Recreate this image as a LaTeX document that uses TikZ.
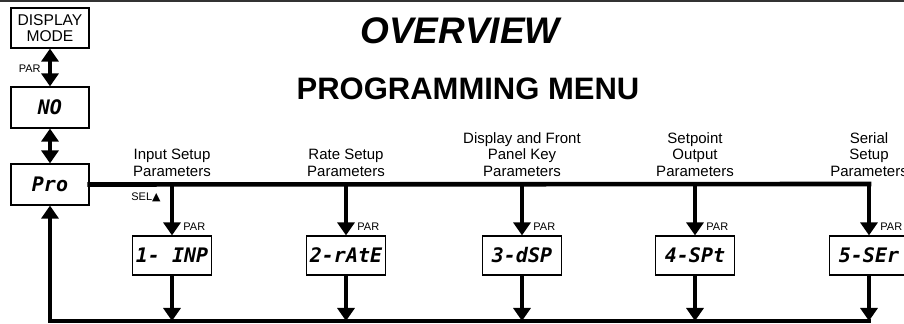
\documentclass[tikz,border=0pt]{standalone}
\usepackage{fontspec}
\setmainfont{Liberation Sans}
\newfontfamily\lcd{DejaVu Sans Mono}
\newfontfamily\sym{DejaVu Sans}
\usetikzlibrary{arrows.meta}

\tikzset{
  dispbox/.style={draw=black, line width=0.6pt, fill=white, inner sep=0pt,
    minimum width=39pt, minimum height=20.5pt,
    font=\lcd\bfseries\itshape\fontsize{10}{10}\selectfont},
  menubox/.style={dispbox, minimum width=39.5pt, minimum height=19.5pt},
  flow/.style={line width=2.3pt, -{Triangle[width=8.5pt,length=6.5pt]}},
  dflow/.style={line width=2.3pt,
    {Triangle[width=8.5pt,length=6.5pt]}-{Triangle[width=8.5pt,length=6.5pt]}},
  keylbl/.style={font=\fontsize{5.5}{6}\selectfont, inner sep=1pt},
  menulbl/.style={font=\fontsize{7.5}{8.3}\selectfont, align=center,
    anchor=south, inner sep=0pt},
}

\begin{document}
\begin{tikzpicture}[x=0.5pt, y=-0.5pt]
  \useasboundingbox (0,0) rectangle (904,324);
  \draw[line width=1pt, black!80] (0,1) -- (904,1);

  % titles
  \node (title) at (460,31) {\fontsize{18.5}{20}\selectfont\bfseries\itshape OVERVIEW};
  \node (menu) at (468,88.5) {\fontsize{15.5}{17}\selectfont\bfseries PROGRAMMING MENU};

  % left column
  \node[dispbox, minimum height=20pt, align=center,
    font=\fontsize{7.8}{8.2}\selectfont] (dmode) at (50,28) {DISPLAY\\MODE};
  \node[dispbox] (no) at (50,107.5) {NO};
  \node[dispbox] (pro) at (50,184.5) {Pro};
  \draw[dflow] (dmode) -- (no);
  \draw[dflow] (no) -- (pro);
  \node[keylbl, anchor=east] (parkey) at (43,69) {PAR};

  % menu branches
  \foreach \i/\x/\code/\lbl in {
      1/172/{1- INP}/{Input Setup\\Parameters},
      2/346/{2-rAtE}/{Rate Setup\\Parameters},
      3/522/{3-dSP}/{Display and Front\\Panel Key\\Parameters},
      4/695/{4-SPt}/{Setpoint\\Output\\Parameters},
      5/869/{5-SEr}/{Serial\\Setup\\Parameters}} {
    \node[menubox] (m\i) at (\x,255.5) {\code};
    \coordinate (t\i) at (\x,184);
    \coordinate (b\i) at (\x,321);
    \node[menulbl] (l\i) at (\x,177) {\lbl};
    \node[keylbl, anchor=south west] (p\i) at ([xshift=4.5pt, yshift=1pt]m\i.north) {PAR};
    \draw[flow] (t\i) -- (m\i);
    \draw[flow] (m\i) -- (b\i);
  }
  \node[keylbl, anchor=east] (sel) at ([xshift=-4.5pt, yshift=-6.5pt]t1) {SEL{\sym ▲}};

  % bus lines
  \draw[line width=2.3pt, line cap=rect] (pro.east) -- (t5);
  \coordinate (bl) at (pro.south |- b1);
  \draw[flow, line cap=rect, line join=miter] (b5) -- (bl) -- (pro);
\end{tikzpicture}
\end{document}
